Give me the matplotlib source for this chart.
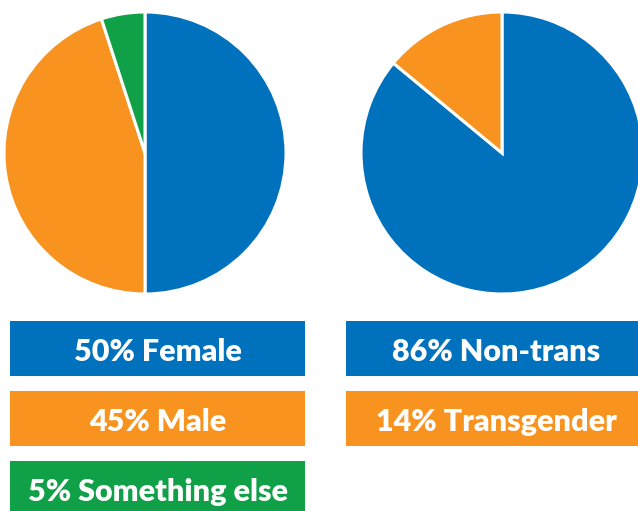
import matplotlib
matplotlib.use("Agg")
import matplotlib.pyplot as plt
from matplotlib.patches import Rectangle

# data
gender_labels = ["Female", "Male", "Something else"]
gender_values = [50, 45, 5]
trans_labels = ["Non-trans", "Transgender"]
trans_values = [86, 14]

blue = "#0071bc"
orange = "#f7931e"
green = "#10a048"
gender_colors = [blue, orange, green]
trans_colors = [blue, orange]

W, H = 638, 511
fig = plt.figure(figsize=(W / 100, H / 100), dpi=100)
ax = fig.add_axes([0, 0, 1, 1])

wp = dict(edgecolor="white", linewidth=2.2)
ax.pie(gender_values, colors=gender_colors, startangle=90, counterclock=False,
       center=(145, H - 153), radius=141, wedgeprops=wp)
ax.pie(trans_values, colors=trans_colors, startangle=90, counterclock=False,
       center=(502, H - 153), radius=141, wedgeprops=wp)

# label boxes below each pie
def boxes(labels, values, colors, x0, x1):
    rows = [(321, 376), (391, 446), (461, 516)]
    for (lab, val, col), (top, bot) in zip(zip(labels, values, colors), rows):
        ax.add_patch(Rectangle((x0, H - bot), x1 - x0, bot - top,
                               facecolor=col, edgecolor="none", zorder=3))
        ax.text((x0 + x1) / 2, H - (top + bot) / 2 - 3, f"{val}% {lab}",
                color="white", fontsize=22, fontweight="heavy",
                family=["Lato", "DejaVu Sans"],
                ha="center", va="center", zorder=4)

boxes(gender_labels, gender_values, gender_colors, 10, 305)
boxes(trans_labels, trans_values, trans_colors, 346, 646)

ax.set_xlim(0, W)
ax.set_ylim(0, H)
ax.set_aspect("auto")
ax.axis("off")

fig.savefig("out.png", dpi=100)
